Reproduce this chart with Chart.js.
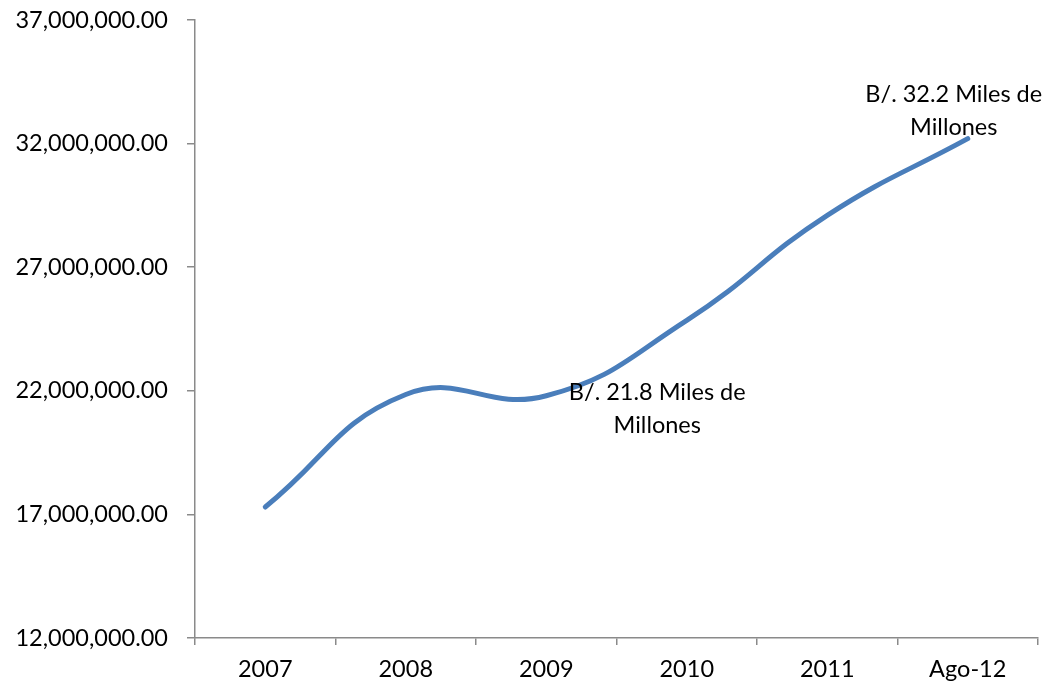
<!DOCTYPE html>
<html>
<head>
<meta charset="utf-8">
<script src="https://cdn.jsdelivr.net/npm/chart.js@4"></script>
<style>
    body { margin: 0; background: #ffffff; }
    #wrap { width: 1054px; height: 688px; }
</style>
</head>
<body>
<div id="wrap"><canvas id="deudaChart" width="1054" height="688"></canvas></div>
<script>
// Data
const years = ['2007', '2008', '2009', '2010', '2011', 'Ago-12'];
const deuda = [17300000, 21850000, 21800000, 24850000, 29100000, 32200000];
const yTicks = [12000000, 17000000, 22000000, 27000000, 32000000, 37000000];
const noteIndex = [2, 5];
const noteLines = [['B/. 21.8 Miles de', 'Millones'], ['B/. 32.2 Miles de', 'Millones']];

const FONT = 'Lato';
const FSIZE = 23.5;
const AXIS = '#8a8a8a';

// Draws the two text notes next to their points
const notesPlugin = {
    id: 'notes',
    afterDatasetsDraw(chart) {
        const ctx = chart.ctx;
        const meta = chart.getDatasetMeta(0);
        const offsets = [{ dx: 111, dy: -3 }, { dx: -14, dy: -44 }];
        ctx.save();
        ctx.font = `${FSIZE}px ${FONT}`;
        ctx.fillStyle = '#000000';
        ctx.textAlign = 'center';
        ctx.textBaseline = 'middle';
        noteIndex.forEach((idx, i) => {
            const pt = meta.data[idx];
            noteLines[i].forEach((line, j) => {
                ctx.fillText(line, pt.x + offsets[i].dx, pt.y + offsets[i].dy + j * 33);
            });
        });
        ctx.restore();
    }
};

new Chart(document.getElementById('deudaChart').getContext('2d'), {
    type: 'line',
    data: {
        labels: years,
        datasets: [{
            data: deuda,
            borderColor: '#4A7EBB',
            borderWidth: 5,
            borderCapStyle: 'round',
            pointRadius: 0,
            tension: 0.45,
            fill: false
        }]
    },
    options: {
        responsive: false,
        animation: false,
        devicePixelRatio: 1,
        layout: { padding: { top: 20, right: 16, left: 0, bottom: 0 } },
        plugins: {
            legend: { display: false },
            tooltip: { enabled: false }
        },
        scales: {
            x: {
                type: 'category',
                offset: true,
                grid: { display: true, offset: true, drawOnChartArea: false, drawTicks: true, tickLength: 7, color: AXIS, lineWidth: 1.5 },
                border: { display: true, color: AXIS, width: 1.5 },
                ticks: { color: '#000000', font: { family: FONT, size: FSIZE }, padding: 10, maxRotation: 0 },
                afterFit: scale => { scale.height = 50; scale.paddingLeft = 0; scale.paddingRight = 0; }
            },
            y: {
                min: yTicks[0],
                max: yTicks[yTicks.length - 1],
                afterBuildTicks: scale => { scale.ticks = yTicks.map(v => ({ value: v })); },
                grid: { display: true, drawOnChartArea: false, drawTicks: true, tickLength: 8, color: AXIS, lineWidth: 1.5 },
                border: { display: true, color: AXIS, width: 1.5 },
                ticks: {
                    color: '#000000',
                    font: { family: FONT, size: FSIZE },
                    padding: 19,
                    callback: v => Number(v).toLocaleString('en-US', { minimumFractionDigits: 2, maximumFractionDigits: 2 })
                },
                afterFit: scale => { scale.width = 195; scale.paddingTop = 0; scale.paddingBottom = 0; }
            }
        }
    },
    plugins: [notesPlugin]
});
</script>
</body>
</html>
